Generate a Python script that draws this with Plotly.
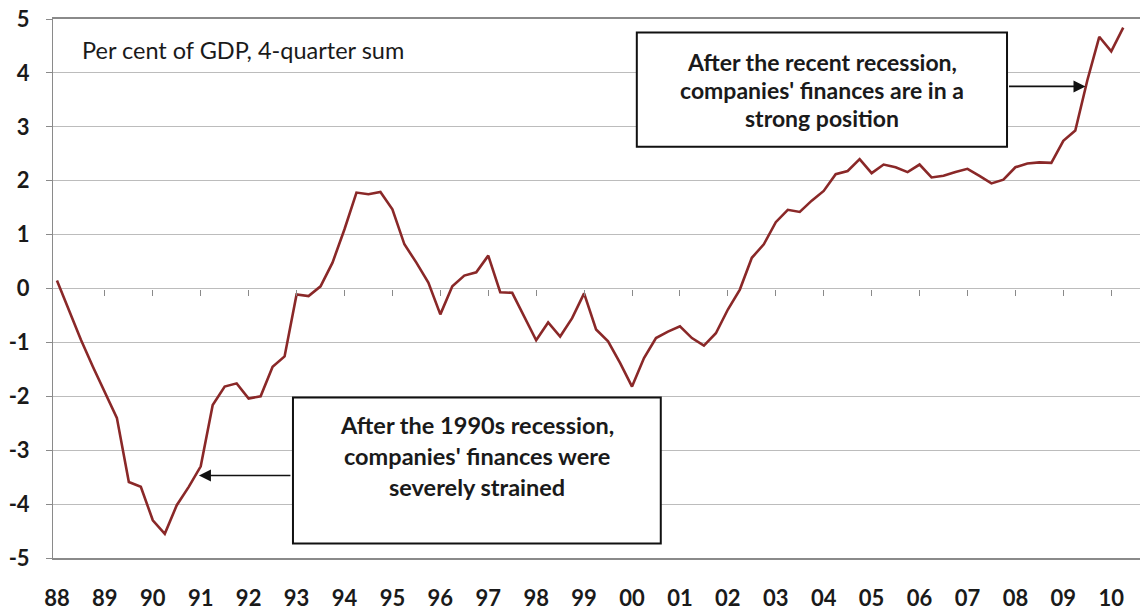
import plotly.graph_objects as go

# Corporate financial balance, per cent of GDP (4-quarter sum), 1988Q1 to 2010Q2
year_labels = ['88', '89', '90', '91', '92', '93', '94', '95', '96', '97', '98',
               '99', '00', '01', '02', '03', '04', '05', '06', '07', '08', '09', '10']

y_values = [-5, -4, -3, -2, -1, 0, 1, 2, 3, 4, 5]
y_labels = ['-5', '-4', '-3', '-2', '-1', '0', '1', '2', '3', '4', '5']

balance = [
    0.15, -0.40, -0.95, -1.45,    # 1988
    -1.92, -2.40, -3.59, -3.68,   # 1989
    -4.30, -4.55, -4.02, -3.68,   # 1990
    -3.30, -2.16, -1.82, -1.76,   # 1991
    -2.04, -2.00, -1.45, -1.26,   # 1992
    -0.11, -0.14, 0.04, 0.48,     # 1993
    1.10, 1.78, 1.75, 1.79,       # 1994
    1.47, 0.82, 0.48, 0.11,       # 1995
    -0.48, 0.04, 0.24, 0.30,      # 1996
    0.61, -0.07, -0.08, -0.52,    # 1997
    -0.96, -0.63, -0.89, -0.55,   # 1998
    -0.09, -0.76, -0.98, -1.38,   # 1999
    -1.82, -1.29, -0.92, -0.80,   # 2000
    -0.70, -0.92, -1.06, -0.83,   # 2001
    -0.39, -0.02, 0.57, 0.82,     # 2002
    1.23, 1.46, 1.42, 1.63,       # 2003
    1.81, 2.12, 2.18, 2.40,       # 2004
    2.14, 2.30, 2.25, 2.16,       # 2005
    2.30, 2.06, 2.09, 2.16,       # 2006
    2.22, 2.09, 1.95, 2.02,       # 2007
    2.25, 2.32, 2.34, 2.33,       # 2008
    2.74, 2.93, 3.86, 4.67,       # 2009
    4.40, 4.84,                   # 2010
]

quarter = list(range(len(balance)))
year_ticks = [4 * k for k in range(len(year_labels))]
inner_ticks = year_ticks[1:]

note_recent = ["After the recent recession,",
               "companies' finances are in a",
               "strong position"]
note_1990s = ["After the 1990s recession,",
              "companies' finances were",
              "severely strained"]

INK = '#1a1a1a'
GRID = '#bcbcbc'
AXIS = '#8a8a8a'
LINE = '#8a2828'
X_RANGE = [-0.33, 90.4]

fig = go.Figure()

# helper subplot occupying the upper half: its x axis sits on the zero line
# and carries the small year tick marks
fig.add_trace(go.Scatter(x=[quarter[0]], y=[0], xaxis='x2', yaxis='y2', mode='markers',
                         marker=dict(opacity=0), showlegend=False, hoverinfo='skip'))

fig.add_trace(go.Scatter(
    x=quarter, y=balance, mode='lines',
    line=dict(color=LINE, width=2.6),
    hoverinfo='skip', showlegend=False,
))

fig.update_layout(
    width=1140, height=612,
    margin=dict(l=53, r=0, t=19, b=54),
    paper_bgcolor='white', plot_bgcolor='rgba(0,0,0,0)',
    font=dict(family='Lato', color=INK),
    xaxis=dict(
        range=X_RANGE, tickmode='array', tickvals=year_ticks,
        ticktext=year_labels, ticks='', ticklabelstandoff=20, automargin=False,
        tickfont=dict(size=22, family='Lato', weight='bold', color=INK),
        showgrid=False, zeroline=False,
        showline=True, linecolor=AXIS, linewidth=1.5, mirror=True,
    ),
    xaxis2=dict(
        anchor='y2', domain=[0, 1], range=X_RANGE, tickmode='array',
        tickvals=inner_ticks, ticks='outside', ticklen=6, tickcolor=AXIS,
        tickwidth=1.2, showticklabels=False, showgrid=False, zeroline=False,
        showline=False, automargin=False,
    ),
    yaxis=dict(
        range=[-5, 5], tickmode='array', tickvals=y_values, ticktext=y_labels,
        ticks='outside', ticklen=6, tickcolor=AXIS, ticklabelstandoff=12,
        automargin=False,
        tickfont=dict(size=22, family='Lato', weight='bold', color=INK),
        showgrid=True, gridcolor=GRID, gridwidth=1, zeroline=False,
        showline=True, linecolor=AXIS, linewidth=1,
    ),
    yaxis2=dict(
        anchor='x2', domain=[0.5, 1], range=[0, 1], showticklabels=False,
        ticks='', showgrid=False, zeroline=False, showline=False, automargin=False,
    ),
)

# framed notes
fig.add_shape(type='rect', xref='x', yref='y', x0=48.4, x1=79.3, y0=2.63, y1=4.75,
              line=dict(color='#111111', width=2), fillcolor='white', layer='above')
fig.add_shape(type='rect', xref='x', yref='y', x0=19.7, x1=50.4, y0=-4.73, y1=-2.02,
              line=dict(color='#111111', width=2), fillcolor='white', layer='above')

for k, txt in enumerate(note_recent):
    fig.add_annotation(x=63.85, y=4.20 - 0.515 * k, xref='x', yref='y', text=txt,
                       showarrow=False, font=dict(size=23, family='Lato', weight='bold', color=INK))
for k, txt in enumerate(note_1990s):
    fig.add_annotation(x=35.05, y=-2.54 - 0.57 * k, xref='x', yref='y', text=txt,
                       showarrow=False, font=dict(size=23.5, family='Lato', weight='bold', color=INK))

# arrows from the notes to the line
fig.add_annotation(x=85.85, y=3.75, xref='x', yref='y', text='', showarrow=True,
                   ax=-78, ay=0, arrowhead=2, arrowsize=1.5, arrowwidth=1.6,
                   arrowcolor='#111111', standoff=0)
fig.add_annotation(x=11.85, y=-3.47, xref='x', yref='y', text='', showarrow=True,
                   ax=93, ay=0, arrowhead=2, arrowsize=1.5, arrowwidth=1.6,
                   arrowcolor='#111111', standoff=0)

fig.add_annotation(x=0.0248, y=0.942, xref='paper', yref='paper',
                   xanchor='left', yanchor='middle', showarrow=False,
                   text='Per cent of GDP, 4-quarter sum',
                   font=dict(size=23.5, family='Lato', color=INK))

fig.write_html('out.html')
